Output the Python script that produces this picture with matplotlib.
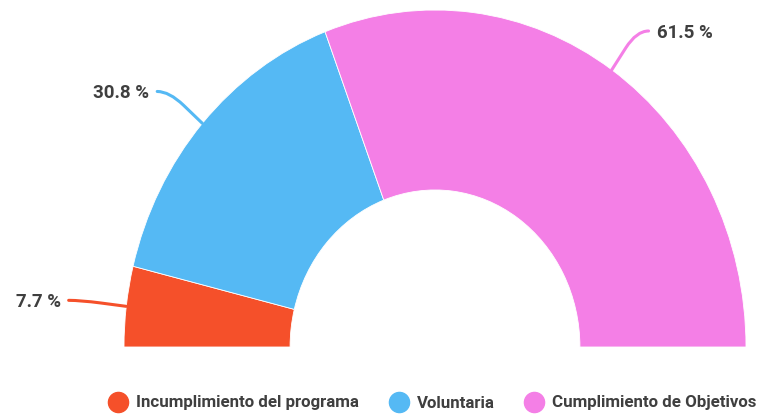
import numpy as np
import matplotlib
matplotlib.use("Agg")
import matplotlib.pyplot as plt
from matplotlib.path import Path
from matplotlib.patches import PathPatch

categories = ["Incumplimiento del programa", "Voluntaria", "Cumplimiento de Objetivos"]
values = [7.7, 30.8, 61.5]
labels = ["7.7 %", "30.8 %", "61.5 %"]
colors = ["#F5502A", "#55B9F4", "#F47FE6"]

W, H = 762, 418
fig = plt.figure(figsize=(W / 100, H / 100), dpi=100)
ax = fig.add_axes([0, 0, 1, 1])
ax.axis("off")

# pixel geometry
cx, cy_top = 435, 347          # center in pixels (from top)
sx, sy = 311.0, 337.0          # px per data unit
cy = H - cy_top

total = sum(values)
wedges, _ = ax.pie(values + [total], startangle=180, counterclock=False,
                   colors=colors + ["none"], radius=1.0,
                   wedgeprops=dict(width=0.534, edgecolor="white", linewidth=0.6))
wedges[-1].set_visible(False)
ax.set_aspect("auto")
ax.set_xlim(-cx / sx, (W - cx) / sx)
ax.set_ylim(-cy / sy, (H - cy) / sy)

font = "Roboto"
txtcol = "#3f3f3f"
cum = 0.0
for v, lab, col in zip(values, labels, colors):
    mid = cum + v / 2
    cum += v
    theta = np.deg2rad(180 - 180 * mid / total)
    p0 = np.array([np.cos(theta), np.sin(theta)])
    u = np.array([sx * np.cos(theta), sy * np.sin(theta)])
    u = u / np.linalg.norm(u)
    sign = 1 if np.cos(theta) > 0 else -1
    def px(vec):
        return np.array([vec[0] / sx, vec[1] / sy])
    p1 = p0 + px(26 * u)
    c = p0 + px(46 * u)
    e = c + px(np.array([sign * 12, 0]))
    path = Path([p0, p1, c, e], [Path.MOVETO, Path.LINETO, Path.CURVE3, Path.CURVE3])
    ax.add_patch(PathPatch(path, facecolor="none", edgecolor=col, lw=2.2, capstyle="round"))
    tp = e + px(np.array([sign * 8, -2]))
    ax.text(tp[0], tp[1], lab, ha="left" if sign > 0 else "right", va="center",
            fontsize=13.5, fontweight="bold", family=font, color=txtcol)

handles = [plt.Line2D([], [], marker="o", linestyle="none", markersize=14.5,
                      markerfacecolor=c_, markeredgecolor=c_) for c_ in colors]
leg = fig.legend(handles, categories, loc="center left", bbox_to_anchor=(108 / W, 15 / H),
                 ncol=3, frameon=False, handletextpad=0.48, columnspacing=1.72,
                 borderaxespad=0, borderpad=0,
                 prop=dict(family=font, weight="bold", size=12.2), handlelength=1.2)
for t in leg.get_texts():
    t.set_color(txtcol)

fig.savefig("out.png", dpi=100, facecolor="white")
